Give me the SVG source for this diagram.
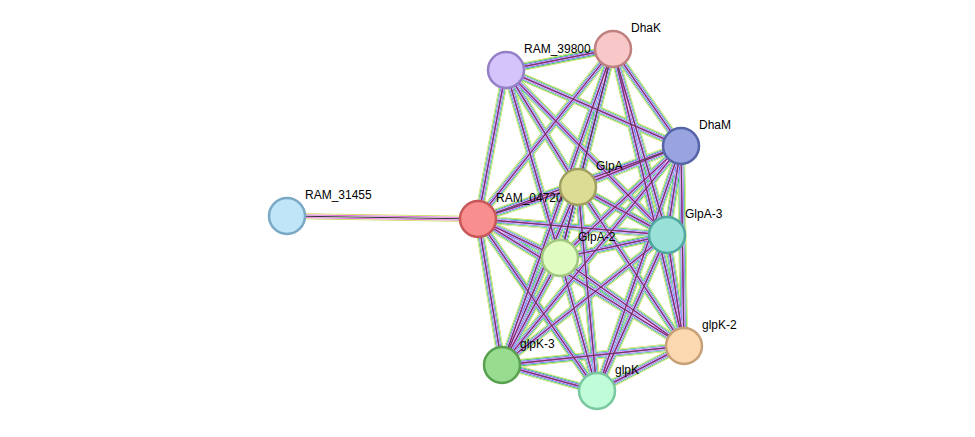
<svg xmlns="http://www.w3.org/2000/svg" xmlns:xlink="http://www.w3.org/1999/xlink" width="975" height="437" viewBox="0 0 975 437">
<style>
.n{stroke-width:2.5}
text{font-family:"Liberation Sans",Arial,sans-serif;font-size:12px;fill:#000}
.l1{stroke:#c8d84a;stroke-width:8;fill:none}
.w1{stroke:#fff;stroke-width:6.8;fill:none}
.l2{stroke:#2fbf3f;stroke-width:6;fill:none}
.w2{stroke:#fff;stroke-width:4.8;fill:none}
.l3{stroke:#4a6af0;stroke-width:4;fill:none}
.w3{stroke:#fff;stroke-width:2.8;fill:none}
.l4{stroke:#d84bd8;stroke-width:2;fill:none}
.l5{stroke:#444;stroke-width:0.9;fill:none}
</style>
<rect width="975" height="437" fill="#fff"/>
<defs>
<g id="e">
<path d="M478 219L506 70M478 219L613 49M478 219L681 146M478 219L578 187M478 219L667 235M478 219L560 258M478 219L684 346M478 219L502 365M478 219L597 391"/>
<path d="M506 70L613 49M506 70L681 146M506 70L578 187M506 70L667 235M506 70L560 258"/>
<path d="M613 49L681 146M613 49L578 187M613 49L667 235M613 49L560 258M613 49L684 346M613 49L502 365"/>
<path d="M681 146L578 187M681 146L667 235M681 146L560 258M681 146L684 346M681 146L502 365M681 146L597 391"/>
<path d="M578 187L667 235M578 187L560 258M578 187L684 346M578 187L502 365M578 187L597 391"/>
<path d="M667 235L560 258M667 235L684 346M667 235L502 365M667 235L597 391"/>
<path d="M560 258L684 346M560 258L502 365M560 258L597 391"/>
<path d="M684 346L597 391M684 346L502 365M502 365L597 391"/>
</g>
</defs>
<g id="connectors">
<path d="M287 216L478 219" stroke="#c8d84a" stroke-width="6" fill="none"/>
<path d="M287 216L478 219" stroke="#fff" stroke-width="4.6" fill="none"/>
<path d="M287 216L478 219" stroke="#d84bd8" stroke-width="3.4" fill="none"/>
<path d="M287 216L478 219" stroke="#fff" stroke-width="2" fill="none"/>
<path d="M287 216L478 219" stroke="#333" stroke-width="1" fill="none"/>
<use xlink:href="#e" class="l1"/>
<use xlink:href="#e" class="w1"/>
<use xlink:href="#e" class="l2"/>
<use xlink:href="#e" class="w2"/>
<use xlink:href="#e" class="l3"/>
<use xlink:href="#e" class="w3"/>
<use xlink:href="#e" class="l4"/>
<use xlink:href="#e" class="l5"/>
</g>
<g id="RAM_31455"><circle class="n" cx="287" cy="216" r="18" fill="#c0e4f8" stroke="#7aa9c5"/><text x="305" y="199">RAM_31455</text></g>
<g id="RAM_04720"><circle class="n" cx="478" cy="219" r="18" fill="#f88e8e" stroke="#c85858"/><text x="496" y="202">RAM_04720</text></g>
<g id="RAM_39800"><circle class="n" cx="506" cy="70" r="18" fill="#d5c3fb" stroke="#9580c8"/><text x="524" y="53">RAM_39800</text></g>
<g id="DhaK"><circle class="n" cx="613" cy="49" r="18" fill="#f8c8c8" stroke="#c08080"/><text x="631" y="32">DhaK</text></g>
<g id="DhaM"><circle class="n" cx="681" cy="146" r="18" fill="#98a3e0" stroke="#5665a8"/><text x="699" y="129">DhaM</text></g>
<g id="GlpA"><circle class="n" cx="578" cy="187" r="18" fill="#dcdc94" stroke="#a0a060"/><text x="596" y="170">GlpA</text></g>
<g id="GlpA-3"><circle class="n" cx="667" cy="235" r="18" fill="#98e0d8" stroke="#50a8a0"/><text x="685" y="218">GlpA-3</text></g>
<g id="GlpA-2"><circle class="n" cx="560" cy="258" r="18" fill="#e0fcc0" stroke="#a0c880"/><text x="578" y="241">GlpA-2</text></g>
<g id="glpK-2"><circle class="n" cx="684" cy="346" r="18" fill="#fcd8b0" stroke="#c8a078"/><text x="702" y="329">glpK-2</text></g>
<g id="glpK-3"><circle class="n" cx="502" cy="365" r="18" fill="#98dc90" stroke="#58a050"/><text x="520" y="348">glpK-3</text></g>
<g id="glpK"><circle class="n" cx="597" cy="391" r="18" fill="#c0fcd8" stroke="#78c8a0"/><text x="615" y="374">glpK</text></g>
</svg>
